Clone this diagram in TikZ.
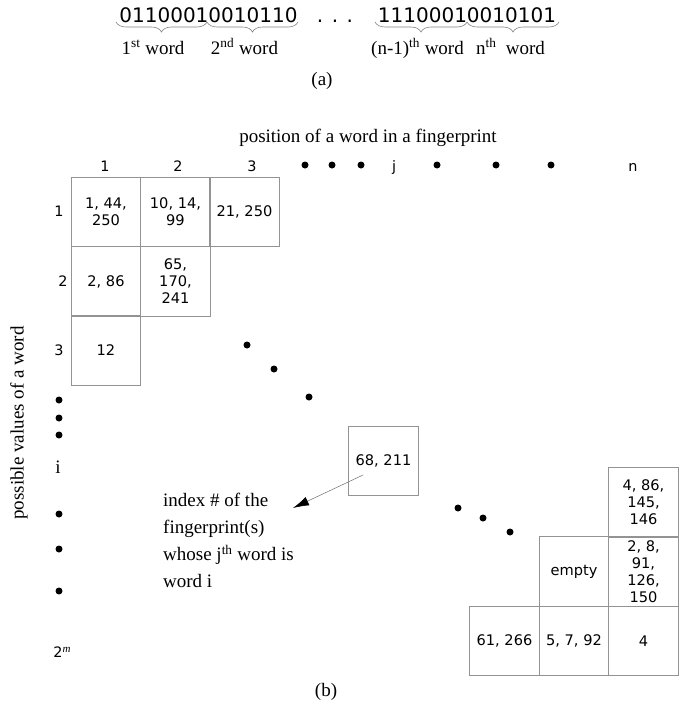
\documentclass[tikz,border=0pt]{standalone}
\usepackage{fontspec}
\setmainfont{Liberation Serif}
\newfontfamily\dvsans{DejaVu Sans}
\usetikzlibrary{decorations.pathreplacing,arrows.meta}
\begin{document}
\begin{tikzpicture}[x=1pt,y=-1pt,
  bits/.style={font=\dvsans\fontsize{20}{24}\selectfont, inner sep=0, anchor=base},
  lbl/.style={font=\fontsize{19}{23}\selectfont, inner sep=0, anchor=base},
  num/.style={font=\dvsans\fontsize{14.4}{17}\selectfont, inner sep=0, anchor=base},
  cell/.style={draw=gray!85, line width=0.7pt, minimum width=69.5pt, minimum height=69.5pt, inner sep=0, align=center, font=\dvsans\fontsize{14.6}{17}\selectfont},
  bdot/.style={circle, fill=black, inner sep=0, minimum size=7pt},
  wbrace/.style={decorate, decoration={brace, mirror, amplitude=10pt}, draw=gray, line width=0.6pt}
]
\useasboundingbox (0,0) rectangle (684,720);
% (a)
\node[bits] (b1) at (208.5,22) {01100010010110};
\node[bits] (bd) at (335,22) {. . .};
\node[bits] (b2) at (467,22) {11100010010101};
\coordinate (w1a) at (116,22); \coordinate (w1b) at (207,22);
\coordinate (w2a) at (207,22); \coordinate (w2b) at (298,22);
\coordinate (w3a) at (375,22); \coordinate (w3b) at (467,22);
\coordinate (w4a) at (467,22); \coordinate (w4b) at (559,22);
\draw[wbrace] (w1a) -- (w1b);
\draw[wbrace] (w2a) -- (w2b);
\draw[wbrace] (w3a) -- (w3b);
\draw[wbrace] (w4a) -- (w4b);
\node[lbl] (l1) at (153,54) {1\textsuperscript{st} word};
\node[lbl] (l2) at (244.5,54) {2\textsuperscript{nd} word};
\node[lbl] (l3) at (417.5,54) {(n-1)\textsuperscript{th} word};
\node[lbl] (l4) at (510.5,54) {n\textsuperscript{th}\ \ word};
\node[lbl] (capa) at (322,85) {(a)};
% (b)
\node[lbl] (title) at (368,142) {position of a word in a fingerprint};
\node[lbl, anchor=center, rotate=90] (vtitle) at (19,423) {possible values of a word};
\node[num] (c1) at (105,171) {1};
\node[num] (c2) at (178,171) {2};
\node[num] (c3) at (252,171) {3};
\node[num] (cj) at (394,171) {j};
\node[num] (cn) at (633,171) {n};
\node[bdot] (td1) at (305,165) {};
\node[bdot] (td2) at (332,165) {};
\node[bdot] (td3) at (361,165) {};
\node[bdot] (td4) at (437,165) {};
\node[bdot] (td5) at (496,165) {};
\node[bdot] (td6) at (551,165) {};
\node[num] (r1) at (59,216) {1};
\node[num] (r2) at (63,286) {2};
\node[num] (r3) at (59,355) {3};
\node[bdot] (ld1) at (59,400) {};
\node[bdot] (ld2) at (59,418) {};
\node[bdot] (ld3) at (59,435) {};
\node[lbl] (ri) at (58,473) {i};
\node[bdot] (ld4) at (59,514) {};
\node[bdot] (ld5) at (59,549) {};
\node[bdot] (ld6) at (59,591) {};
\node[num] (rm) at (62,657) {2\raisebox{5pt}{\rmfamily\itshape\fontsize{11}{12}\selectfont m}};
% grid
\node[cell] (g11) at (106,212) {1, 44,\\250};
\node[cell] (g12) at (175.5,212) {10, 14,\\99};
\node[cell] (g13) at (244.5,212) {21, 250};
\node[cell] (g21) at (106,281.5) {2, 86};
\node[cell] (g22) at (175.5,281.5) {65,\\170,\\241};
\node[cell] (g31) at (106,350.5) {12};
\node[bdot] (dd1) at (247,345) {};
\node[bdot] (dd2) at (274,369) {};
\node[bdot] (dd3) at (309,397) {};
\node[cell] (gij) at (383.5,461) {68, 211};
\node[bdot] (dd4) at (458,508) {};
\node[bdot] (dd5) at (483,518) {};
\node[bdot] (dd6) at (510,532) {};
\node[cell] (ga3) at (643.5,502.5) {4, 86,\\145,\\146};
\node[cell] (gb2) at (574,571.5) {empty};
\node[cell] (gb3) at (643.5,571.5) {2, 8,\\91,\\126,\\150};
\node[cell] (gc1) at (504.5,641) {61, 266};
\node[cell] (gc2) at (574,641) {5, 7, 92};
\node[cell] (gc3) at (643.5,641) {4};
% annotation
\node[anchor=north west, align=left, inner sep=0, font=\fontsize{19}{27}\selectfont] (ann) at (163,493) {index \# of the\\fingerprint(s)\\whose j\textsuperscript{th} word is\\word i};
\coordinate (as) at (363,475);
\coordinate (ae) at (293,508);
\draw[gray, line width=0.6pt, -{Latex[black,length=16pt,width=9pt]}] (as) -- (ae);
\node[lbl] (capb) at (326,696) {(b)};
\end{tikzpicture}
\end{document}
